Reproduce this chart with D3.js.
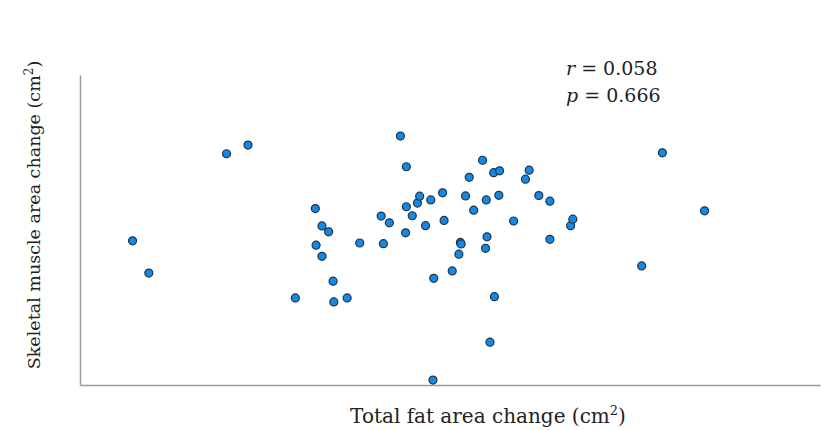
<!DOCTYPE html>
<html>
<head>
<meta charset="utf-8">
<script src="https://cdn.jsdelivr.net/npm/d3@7"></script>
<style>
  body { margin: 0; background: #fff; }
  svg text { font-family: "DejaVu Serif", "Liberation Serif", serif; fill: #222; }
</style>
</head>
<body>
<div id="chart"></div>
<script>
// total fat area change (x) and skeletal muscle area change (y)
const fatChange = [7.1, 9.3, 19.8, 22.7, 29.1, 31.8, 32.7, 33.6, 31.9, 32.7,
  34.2, 34.3, 36.1, 37.8, 41.0, 40.7, 41.8, 43.3, 44.1, 44.0,
  44.1, 44.9, 45.6, 45.9, 47.4, 46.7, 49.0, 49.2, 47.8, 47.7,
  50.3, 51.2, 51.4, 51.5, 52.1, 52.6, 53.2, 54.4, 54.9, 55.0,
  54.8, 56.0, 55.4, 55.9, 56.7, 56.6, 58.6, 60.2, 60.7, 62.0,
  63.5, 63.5, 66.3, 66.6, 75.9, 78.7, 84.4];
const muscleChange = [46.5, 36.1, 74.6, 77.4, 28.1, 56.9, 51.3, 49.4, 45.1, 41.5,
  33.5, 26.8, 28.1, 45.8, 45.6, 54.5, 52.3, 80.3, 70.4, 49.1,
  57.5, 54.6, 58.7, 60.9, 59.7, 51.4, 62.0, 53.1, 34.4, 1.6,
  36.8, 42.2, 46.0, 45.5, 61.0, 67.0, 56.4, 72.5, 59.7, 47.8,
  44.1, 28.5, 13.8, 68.5, 69.1, 61.2, 52.9, 66.4, 69.3, 61.1,
  59.3, 47.0, 51.4, 53.5, 38.4, 74.9, 56.2];
const statLines = [["r", " = 0.058"], ["p", " = 0.666"]];

const W = 821, H = 430;
const margin = {left: 80, right: 1, top: 75, bottom: 45};

const svg = d3.select("#chart").append("svg")
  .attr("width", W).attr("height", H);

const x = d3.scaleLinear().domain([0, 100]).range([margin.left, W - margin.right]);
const y = d3.scaleLinear().domain([0, 100]).range([H - margin.bottom, margin.top]);

// axes, lines only, no ticks
svg.append("g")
  .attr("transform", "translate(0," + (H - margin.bottom) + ")")
  .call(d3.axisBottom(x).tickValues([]).tickSizeOuter(0))
  .select(".domain").attr("stroke", "#9a9a9a").attr("stroke-width", 1.5);
svg.append("g")
  .attr("transform", "translate(" + margin.left + ",0)")
  .call(d3.axisLeft(y).tickValues([]).tickSizeOuter(0))
  .select(".domain").attr("stroke", "#9a9a9a").attr("stroke-width", 1.5);

// points
svg.selectAll(".pt")
  .data(d3.range(fatChange.length))
  .enter().append("circle")
  .attr("class", "pt")
  .attr("cx", i => x(fatChange[i]))
  .attr("cy", i => y(muscleChange[i]))
  .attr("r", 4)
  .attr("fill", "#1688e0")
  .attr("stroke", "#1b3350")
  .attr("stroke-width", 1.2);

// r / p annotation
statLines.forEach((s, i) => {
  const t = svg.append("text")
    .attr("x", 566).attr("y", 75 + i * 27)
    .style("font-size", "19px");
  t.append("tspan").style("font-style", "italic").text(s[0]);
  t.append("tspan").text(s[1]);
});

// axis titles
const xt = svg.append("text")
  .attr("x", 488).attr("y", 423)
  .attr("text-anchor", "middle")
  .style("font-size", "20px");
xt.append("tspan").text("Total fat area change (cm");
xt.append("tspan").attr("dy", -8).style("font-size", "13px").text("2");
xt.append("tspan").attr("dy", 8).text(")");

const yt = svg.append("text")
  .attr("transform", "translate(40,215) rotate(-90)")
  .attr("text-anchor", "middle")
  .style("font-size", "17.5px");
yt.append("tspan").text("Skeletal muscle area change (cm");
yt.append("tspan").attr("dy", -7).style("font-size", "12px").text("2");
yt.append("tspan").attr("dy", 7).text(")");
</script>
</body>
</html>
